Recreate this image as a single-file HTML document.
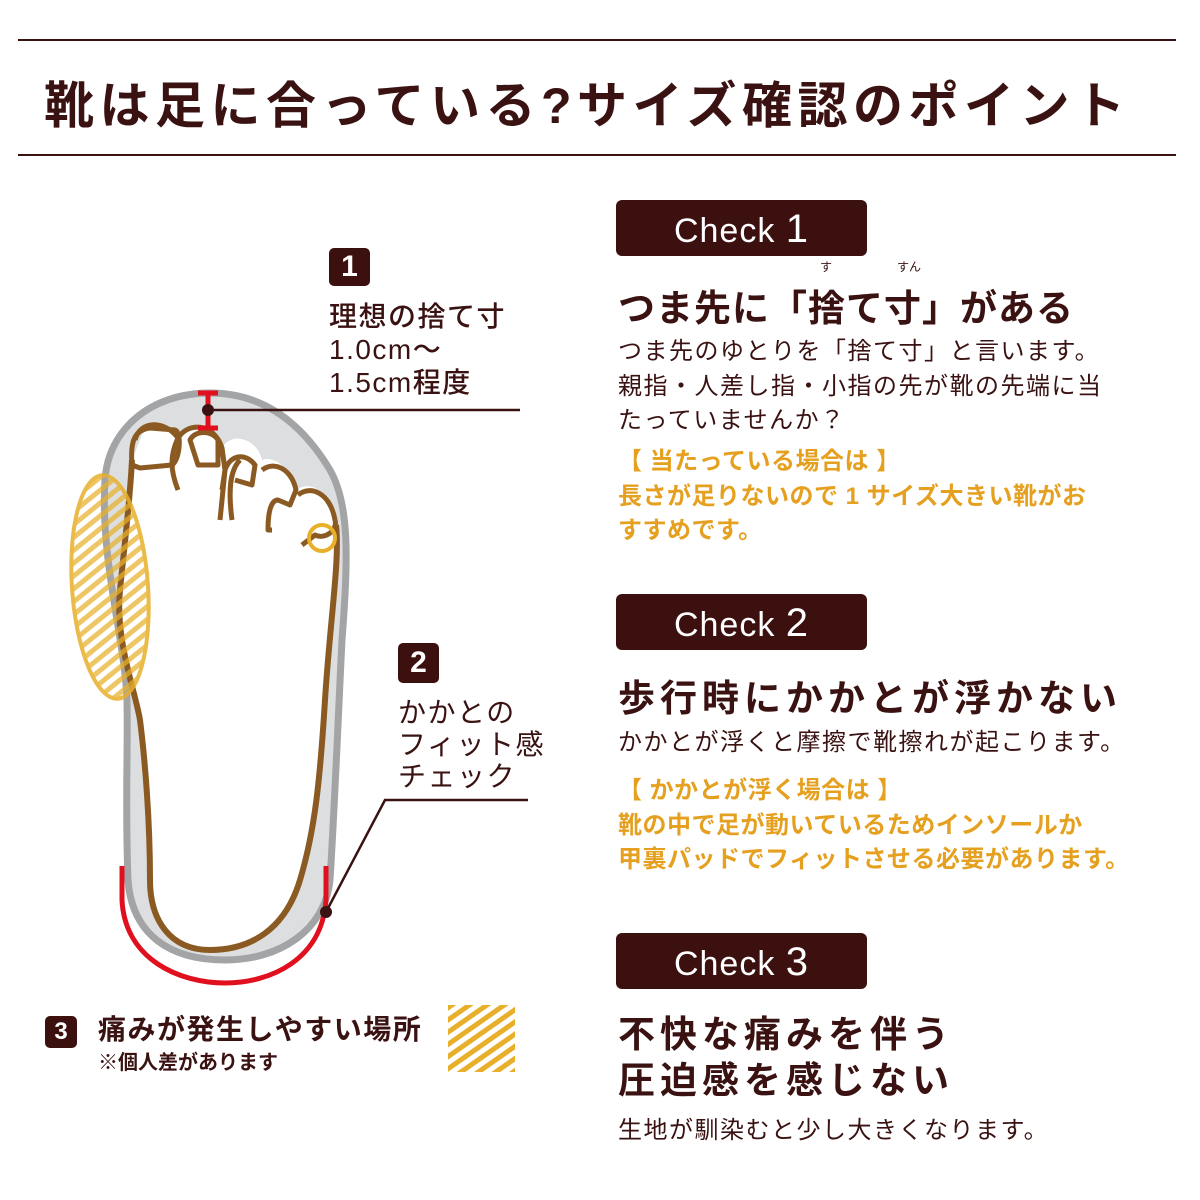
<!DOCTYPE html>
<html><head><meta charset="utf-8"><style>
body{margin:0;width:1200px;height:1200px;background:#fff;position:relative;overflow:hidden;font-family:"Liberation Sans","Noto Sans CJK JP",sans-serif;color:#3a1212}
.a{position:absolute;white-space:nowrap}
.badge{position:absolute;left:616px;width:251px;height:56px;background:#3d1010;border-radius:6px;color:#fff;font-size:34px;text-align:center;line-height:58px;letter-spacing:1px}
.badge b{font-size:40px;font-weight:normal}
.h{position:absolute;left:618px;font-size:37px;font-weight:bold;letter-spacing:5px;white-space:nowrap}
.p{position:absolute;left:618px;font-size:24px;letter-spacing:1.5px;line-height:34.5px;white-space:nowrap}
.o{color:#e5a020;font-weight:bold;letter-spacing:0.5px}
.nb{position:absolute;background:#3d1010;color:#fff;border-radius:5px;text-align:center;font-weight:bold}
</style></head><body>
<div class="a" style="left:18px;top:39px;width:1158px;height:2px;background:#3a1212"></div>
<div class="a" style="left:18px;top:154px;width:1158px;height:2px;background:#3a1212"></div>
<div class="a" style="left:44px;top:66px;font-size:50px;font-weight:bold;letter-spacing:5.5px">靴は足に合っている?サイズ確認のポイント</div>

<svg class="a" style="left:0;top:0" width="600" height="1200">
<defs><pattern id="ht" width="10" height="10" patternUnits="userSpaceOnUse" patternTransform="rotate(-35)"><rect width="10" height="5" fill="#e8b02a"/></pattern></defs>
<path d="M210,393 C260,393 300,420 330,470 C350,505 348,560 342,640 C338,720 335,800 330,880 C325,930 280,960 225,960 C170,960 132,935 128,880 C125,800 128,760 127,700 C125,640 100,560 105,480 C108,430 150,393 210,393 Z" fill="#dcdedf" stroke="#a2a4a6" stroke-width="7"/>
<path d="M140,440 C145,420 170,425 178,440 C190,420 215,425 222,448 C232,430 258,440 262,460 C275,455 292,470 296,490 C310,480 330,490 336,520 C340,560 330,620 325,700 C320,780 315,830 300,880 C285,930 250,950 210,950 C170,950 150,920 150,880 C150,820 145,760 140,720 C135,690 115,640 120,590 C125,540 130,500 132,460 Z" fill="#fff"/>
<path d="M132,460 C130,500 125,540 120,590 C115,640 135,690 140,720 C145,760 150,820 150,880 C150,920 170,950 210,950 C250,950 285,930 300,880 C315,830 320,780 325,700 C330,620 340,560 336,525" fill="none" stroke="#8b5a22" stroke-width="6"/>
<g fill="none" stroke="#8b5a22" stroke-width="5" stroke-linejoin="round">
<path d="M132,465 C130,440 135,430 150,428 L175,430 C182,432 180,460 172,465 L140,468 Z"/>
<path d="M135,440 C140,420 165,420 178,438 C170,455 170,470 178,490"/>
<path d="M178,438 C190,420 215,425 222,448 L225,470 L222,490"/>
<path d="M190,440 C195,430 212,430 218,440 L218,465 L198,465 Z"/>
<path d="M220,520 L225,470 C230,455 245,452 255,465 L252,485 L235,480"/>
<path d="M232,520 C228,490 230,470 240,460"/>
<path d="M262,470 C275,460 292,470 296,490 L290,505 L278,500 C270,500 268,515 268,530 L272,530"/>
<path d="M298,495 C310,485 330,492 335,520 C338,530 325,540 315,535 L302,545"/>
</g>
<circle cx="322" cy="538" r="13" fill="none" stroke="#e8b02a" stroke-width="4"/>
<ellipse cx="110" cy="587" rx="38" ry="112" transform="rotate(-4 110 587)" fill="url(#ht)" fill-opacity="0.85" stroke="#e8b02a" stroke-width="4" opacity="0.85"/>
<path d="M122,866 L122,900 C125,960 180,983 225,983 C270,983 322,960 326,900 L326,866" fill="none" stroke="#e0101e" stroke-width="5"/>
<g stroke="#e0101e" stroke-width="5"><line x1="208" y1="393" x2="208" y2="428"/><line x1="198" y1="393" x2="218" y2="393"/><line x1="198" y1="428" x2="218" y2="428"/></g>
<line x1="208" y1="410" x2="520" y2="410" stroke="#3a1212" stroke-width="2.5"/>
<circle cx="208" cy="410" r="6" fill="#3a1212"/>
<polyline points="326,912 385,800 528,800" fill="none" stroke="#3a1212" stroke-width="2.5"/>
<circle cx="326" cy="912" r="6" fill="#3a1212"/>
<rect x="448" y="1005" width="67" height="67" fill="url(#ht)"/>
</svg>

<div class="nb" style="left:329px;top:248px;width:41px;height:38px;font-size:30px;line-height:38px">1</div>
<div class="a" style="left:329px;top:300px;font-size:28px;letter-spacing:1.5px;line-height:33px;font-weight:500">理想の捨て寸<br>1.0cm～<br>1.5cm程度</div>
<div class="nb" style="left:398px;top:643px;width:41px;height:40px;font-size:30px;line-height:40px">2</div>
<div class="a" style="left:398px;top:697px;font-size:28px;letter-spacing:1.5px;line-height:32px">かかとの<br>フィット感<br>チェック</div>
<div class="nb" style="left:45px;top:1016px;width:32px;height:32px;font-size:24px;line-height:32px">3</div>
<div class="a" style="left:98px;top:1008px;font-size:28px;letter-spacing:1.5px;font-weight:bold">痛みが発生しやすい場所</div>
<div class="a" style="left:98px;top:1046px;font-size:20px;font-weight:bold">※個人差があります</div>

<div class="badge" style="top:200px">Check <b>1</b></div>
<div class="a" style="left:820px;top:258px;font-size:12px">す</div>
<div class="a" style="left:897px;top:258px;font-size:12px">すん</div>
<div class="h" style="top:278px;letter-spacing:1px">つま先に「捨て寸」がある</div>
<div class="p" style="top:335px">つま先のゆとりを「捨て寸」と言います。<br>親指・人差し指・小指の先が靴の先端に当<br>たっていませんか？</div>
<div class="p o" style="top:445px">【 当たっている場合は 】<br>長さが足りないので 1 サイズ大きい靴がお<br>すすめです。</div>

<div class="badge" style="top:594px">Check <b>2</b></div>
<div class="h" style="top:668px">歩行時にかかとが浮かない</div>
<div class="p" style="top:726px">かかとが浮くと摩擦で靴擦れが起こります。</div>
<div class="p o" style="top:774px">【 かかとが浮く場合は 】<br>靴の中で足が動いているためインソールか<br>甲裏パッドでフィットさせる必要があります。</div>

<div class="badge" style="top:933px">Check <b>3</b></div>
<div class="h" style="top:1012px;line-height:46px">不快な痛みを伴う<br>圧迫感を感じない</div>
<div class="p" style="top:1114px">生地が馴染むと少し大きくなります。</div>
</body></html>
